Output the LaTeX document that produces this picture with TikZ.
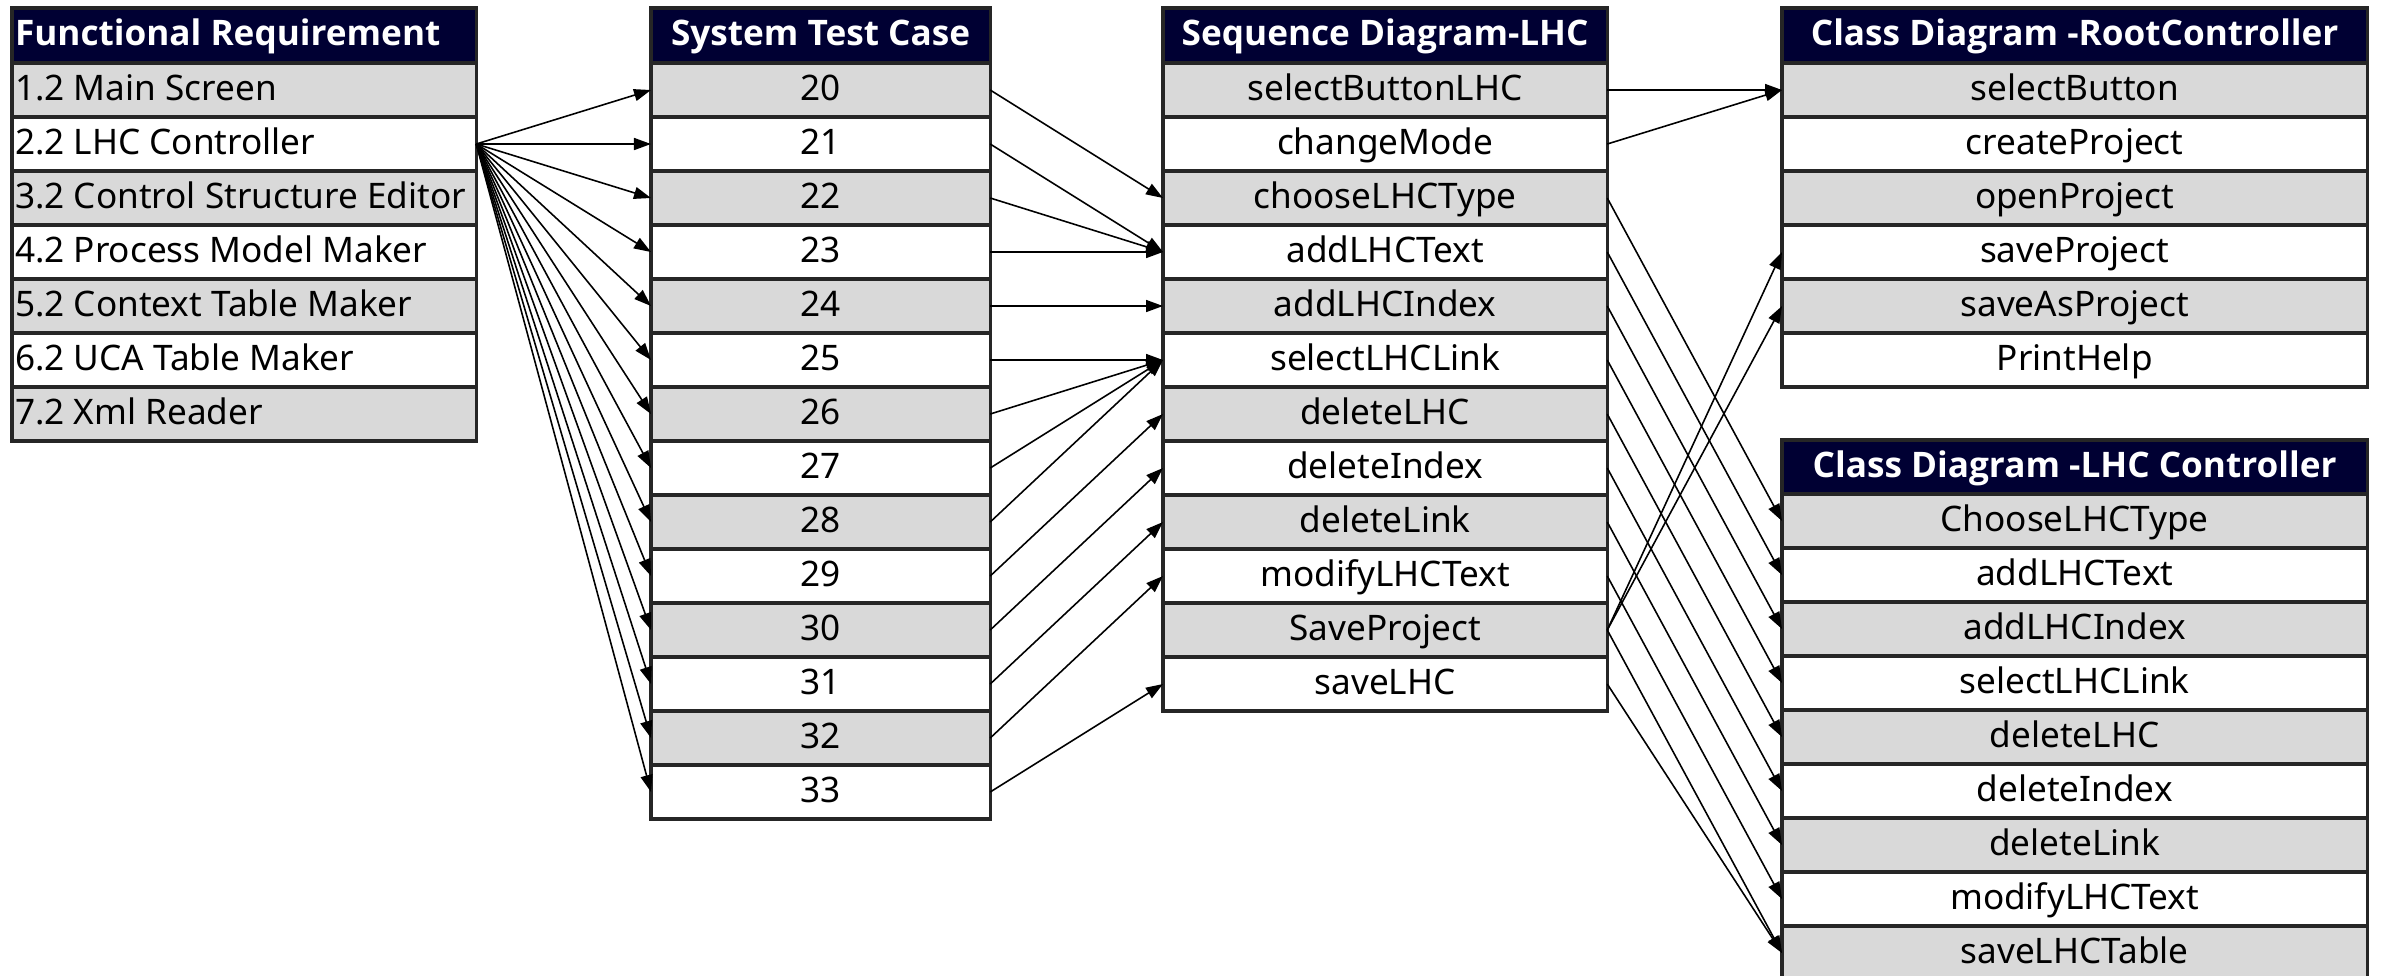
\documentclass[tikz,border=0pt]{standalone}
\usepackage{fontspec}
\setmainfont{Noto Sans}
\newfontfamily\headfont{Open Sans}
\usetikzlibrary{arrows.meta}
\definecolor{navy}{RGB}{0,0,51}
\definecolor{rowgray}{RGB}{217,217,217}

\begin{document}
\begin{tikzpicture}[x=0.01cm, y=-0.01cm,
				cell/.style={draw=black!85, line width=0.9pt, minimum height=0.54cm, inner ysep=0pt, outer sep=0pt, text height=1.55ex, text depth=0.45ex, anchor=north west, font=\fontsize{10}{12}\selectfont},
				hdr/.style={cell, fill=navy, text=white, minimum height=0.55cm, font=\fontsize{10}{12}\selectfont\headfont\bfseries},
				gr/.style={cell, fill=rowgray},
				wr/.style={cell, fill=white},
				lft/.style={text width=4.58cm, align=flush left, inner xsep=0.03cm},
				link/.style={-{Triangle[length=0.17cm, width=0.12cm]}, line width=0.45pt}]
				\useasboundingbox (0,0) rectangle (2384,976);
				
				% Таблица требований
				\node[hdr, lft] (fh) at (12,8) {Functional Requirement};
				\node[gr, lft] (f1) at (12,63) {1.2 Main Screen};
				\node[wr, lft] (f2) at (12,117) {2.2 LHC Controller};
				\node[gr, lft] (f3) at (12,171) {3.2 Control Structure Editor};
				\node[wr, lft] (f4) at (12,225) {4.2 Process Model Maker};
				\node[gr, lft] (f5) at (12,279) {5.2 Context Table Maker};
				\node[wr, lft] (f6) at (12,333) {6.2 UCA Table Maker};
				\node[gr, lft] (f7) at (12,387) {7.2 Xml Reader};
				
				% Тестовые случаи
				\node[hdr, minimum width=3.39cm] (th) at (651,8) {System Test Case};
				\node[gr, minimum width=3.39cm] (t20) at (651,63) {20};
				\node[wr, minimum width=3.39cm] (t21) at (651,117) {21};
				\node[gr, minimum width=3.39cm] (t22) at (651,171) {22};
				\node[wr, minimum width=3.39cm] (t23) at (651,225) {23};
				\node[gr, minimum width=3.39cm] (t24) at (651,279) {24};
				\node[wr, minimum width=3.39cm] (t25) at (651,333) {25};
				\node[gr, minimum width=3.39cm] (t26) at (651,387) {26};
				\node[wr, minimum width=3.39cm] (t27) at (651,441) {27};
				\node[gr, minimum width=3.39cm] (t28) at (651,495) {28};
				\node[wr, minimum width=3.39cm] (t29) at (651,549) {29};
				\node[gr, minimum width=3.39cm] (t30) at (651,603) {30};
				\node[wr, minimum width=3.39cm] (t31) at (651,657) {31};
				\node[gr, minimum width=3.39cm] (t32) at (651,711) {32};
				\node[wr, minimum width=3.39cm] (t33) at (651,765) {33};
				
				% Диаграмма последовательности
				\node[hdr, minimum width=4.44cm] (sh) at (1163,8) {Sequence Diagram-LHC};
				\node[gr, minimum width=4.44cm] (s1) at (1163,63) {selectButtonLHC};
				\node[wr, minimum width=4.44cm] (s2) at (1163,117) {changeMode};
				\node[gr, minimum width=4.44cm] (s3) at (1163,171) {chooseLHCType};
				\node[wr, minimum width=4.44cm] (s4) at (1163,225) {addLHCText};
				\node[gr, minimum width=4.44cm] (s5) at (1163,279) {addLHCIndex};
				\node[wr, minimum width=4.44cm] (s6) at (1163,333) {selectLHCLink};
				\node[gr, minimum width=4.44cm] (s7) at (1163,387) {deleteLHC};
				\node[wr, minimum width=4.44cm] (s8) at (1163,441) {deleteIndex};
				\node[gr, minimum width=4.44cm] (s9) at (1163,495) {deleteLink};
				\node[wr, minimum width=4.44cm] (s10) at (1163,549) {modifyLHCText};
				\node[gr, minimum width=4.44cm] (s11) at (1163,603) {SaveProject};
				\node[wr, minimum width=4.44cm] (s12) at (1163,657) {saveLHC};
				
				% Диаграмма классов RootController
				\node[hdr, minimum width=5.85cm] (rh) at (1782,8) {Class Diagram -RootController};
				\node[gr, minimum width=5.85cm] (r1) at (1782,63) {selectButton};
				\node[wr, minimum width=5.85cm] (r2) at (1782,117) {createProject};
				\node[gr, minimum width=5.85cm] (r3) at (1782,171) {openProject};
				\node[wr, minimum width=5.85cm] (r4) at (1782,225) {saveProject};
				\node[gr, minimum width=5.85cm] (r5) at (1782,279) {saveAsProject};
				\node[wr, minimum width=5.85cm] (r6) at (1782,333) {PrintHelp};
				
				% Диаграмма классов LHC Controller
				\node[hdr, minimum width=5.85cm, minimum height=0.54cm] (ch) at (1782,440) {Class Diagram -LHC Controller};
				\node[gr, minimum width=5.85cm] (c1) at (1782,494) {ChooseLHCType};
				\node[wr, minimum width=5.85cm] (c2) at (1782,548) {addLHCText};
				\node[gr, minimum width=5.85cm] (c3) at (1782,602) {addLHCIndex};
				\node[wr, minimum width=5.85cm] (c4) at (1782,656) {selectLHCLink};
				\node[gr, minimum width=5.85cm] (c5) at (1782,710) {deleteLHC};
				\node[wr, minimum width=5.85cm] (c6) at (1782,764) {deleteIndex};
				\node[gr, minimum width=5.85cm] (c7) at (1782,818) {deleteLink};
				\node[wr, minimum width=5.85cm] (c8) at (1782,872) {modifyLHCText};
				\node[gr, minimum width=5.85cm] (c9) at (1782,926) {saveLHCTable};
				
				% Стрелки: требование -> тесты
				\draw[link] (f2.east) -- (t20.west);
				\draw[link] (f2.east) -- (t21.west);
				\draw[link] (f2.east) -- (t22.west);
				\draw[link] (f2.east) -- (t23.west);
				\draw[link] (f2.east) -- (t24.west);
				\draw[link] (f2.east) -- (t25.west);
				\draw[link] (f2.east) -- (t26.west);
				\draw[link] (f2.east) -- (t27.west);
				\draw[link] (f2.east) -- (t28.west);
				\draw[link] (f2.east) -- (t29.west);
				\draw[link] (f2.east) -- (t30.west);
				\draw[link] (f2.east) -- (t31.west);
				\draw[link] (f2.east) -- (t32.west);
				\draw[link] (f2.east) -- (t33.west);
				
				% Стрелки: тесты -> последовательность
				\draw[link] (t20.east) -- (s3.west);
				\draw[link] (t21.east) -- (s4.west);
				\draw[link] (t22.east) -- (s4.west);
				\draw[link] (t23.east) -- (s4.west);
				\draw[link] (t24.east) -- (s5.west);
				\draw[link] (t25.east) -- (s6.west);
				\draw[link] (t26.east) -- (s6.west);
				\draw[link] (t27.east) -- (s6.west);
				\draw[link] (t28.east) -- (s6.west);
				\draw[link] (t29.east) -- (s7.west);
				\draw[link] (t30.east) -- (s8.west);
				\draw[link] (t31.east) -- (s9.west);
				\draw[link] (t32.east) -- (s10.west);
				\draw[link] (t33.east) -- (s12.west);
				
				% Стрелки: последовательность -> классы
				\draw[link] (s1.east) -- (r1.west);
				\draw[link] (s2.east) -- (r1.west);
				\draw[link] (s11.east) -- (r4.west);
				\draw[link] (s11.east) -- (r5.west);
				\draw[link] (s3.east) -- (c1.west);
				\draw[link] (s4.east) -- (c2.west);
				\draw[link] (s5.east) -- (c3.west);
				\draw[link] (s6.east) -- (c4.west);
				\draw[link] (s7.east) -- (c5.west);
				\draw[link] (s8.east) -- (c6.west);
				\draw[link] (s9.east) -- (c7.west);
				\draw[link] (s10.east) -- (c8.west);
				\draw[link] (s11.east) -- (c9.west);
				\draw[link] (s12.east) -- (c9.west);
			\end{tikzpicture}
\end{document}
